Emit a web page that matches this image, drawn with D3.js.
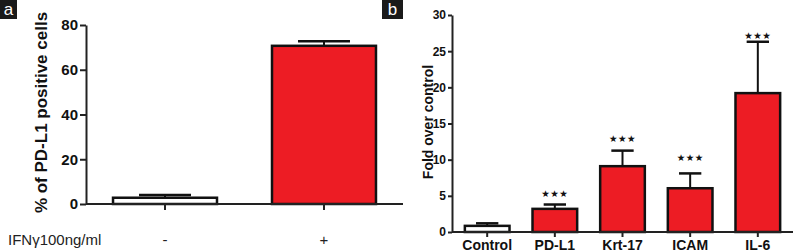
<!DOCTYPE html>
<html lang="en">
<head>
  <meta charset="UTF-8">
  <title>PD-L1 bars</title>
  <script src="https://d3js.org/d3.v7.min.js"></script>
  <style>
    body { margin: 0; background: #fff; font-family: "Liberation Sans", Arial, sans-serif; }
    .axis path, .axis line { stroke: #222; stroke-width: 2; }
    .tag rect { fill: #1a1a1a; }
    .tag text { fill: #fff; font-size: 17px; }
  </style>
</head>
<body>
  <svg width="798" height="252"></svg>

  <script>
    // panel a
    const aGroups = ["-", "+"];
    const aMeans = [2.8, 70.7];
    const aErrors = [1.2, 2.0];
    const aFills = ["#ffffff", "#ed1c24"];
    const aTicks = [0, 20, 40, 60, 80];

    // panel b
    const bGroups = ["Control", "PD-L1", "Krt-17", "ICAM", "IL-6"];
    const bMeans = [0.85, 3.2, 9.1, 6.05, 19.2];
    const bErrors = [0.35, 0.6, 2.15, 2.05, 7.1];
    const bFills = ["#ffffff", "#ed1c24", "#ed1c24", "#ed1c24", "#ed1c24"];
    const bStars = ["", "★★★", "★★★", "★★★", "★★★"];
    const bStarAt = [null, 5.45, 13.0, 10.4, 27.3];
    const bTicks = [0, 5, 10, 15, 20, 25, 30];

    const svg = d3.select("svg");

    function panel(opt) {
      const x = d3.scaleBand().domain(opt.groups).range(opt.xr)
        .paddingInner(opt.pi).paddingOuter(opt.po);
      const y = d3.scaleLinear().domain([0, opt.max]).range(opt.yr);
      const g = svg.append("g");

      // bars
      const bars = g.selectAll(".bar").data(opt.groups).enter();
      bars.append("line")
        .attr("x1", d => x(d) + x.bandwidth() / 2)
        .attr("x2", d => x(d) + x.bandwidth() / 2)
        .attr("y1", (d, i) => y(opt.means[i]))
        .attr("y2", (d, i) => y(opt.means[i] + opt.errs[i]))
        .attr("stroke", "#111").attr("stroke-width", 2);
      bars.append("line")
        .attr("x1", d => x(d) + x.bandwidth() / 4)
        .attr("x2", d => x(d) + x.bandwidth() * 3 / 4)
        .attr("y1", (d, i) => y(opt.means[i] + opt.errs[i]))
        .attr("y2", (d, i) => y(opt.means[i] + opt.errs[i]))
        .attr("stroke", "#111").attr("stroke-width", 2.5);
      bars.append("rect")
        .attr("x", d => x(d))
        .attr("width", x.bandwidth())
        .attr("y", (d, i) => y(opt.means[i]))
        .attr("height", (d, i) => y(0) - y(opt.means[i]))
        .attr("fill", (d, i) => opt.fills[i])
        .attr("stroke", "#111").attr("stroke-width", 2.5);

      // axes
      const ya = g.append("g").attr("class", "axis")
        .attr("transform", `translate(${opt.xr[0]},0)`)
        .call(d3.axisLeft(y).tickValues(opt.ticks).tickSize(opt.tick).tickSizeOuter(0).tickPadding(2));
      ya.selectAll("text").style("font-size", opt.yFont).style("font-weight", "bold")
        .style("font-family", opt.yFamily).attr("fill", "#111");

      const xa = g.append("g").attr("class", "axis")
        .attr("transform", `translate(0,${opt.yr[0]})`)
        .call(d3.axisBottom(x).tickSize(opt.xtick).tickSizeOuter(0).tickFormat(""));
      xa.select(".domain").attr("d", `M${opt.xr[0]},0H${opt.xr[1]}`);
      return { x, y, g };
    }

    // ---- panel a ----
    const A = panel({
      groups: aGroups, means: aMeans, errs: aErrors, fills: aFills, ticks: aTicks,
      max: 80, xr: [86, 403], yr: [204, 25], pi: 0.346, po: 0.17,
      tick: 6, xtick: 6, yFont: "15px", yFamily: "Liberation Sans"
    });
    A.g.selectAll(".glab").data(aGroups).enter().append("text")
      .attr("x", d => A.x(d) + A.x.bandwidth() / 2).attr("y", 245)
      .attr("text-anchor", "middle").style("font-size", "15px").attr("fill", "#222")
      .text(d => d);
    A.g.append("text").attr("x", 8).attr("y", 245)
      .style("font-size", "15px").attr("fill", "#222").text("IFNγ100ng/ml");
    A.g.append("text")
      .attr("transform", "translate(47,112.5) rotate(-90)")
      .attr("text-anchor", "middle").style("font-size", "17px").style("font-weight", "bold")
      .attr("fill", "#111").text("% of PD-L1 positive cells");

    // ---- panel b ----
    const B = panel({
      groups: bGroups, means: bMeans, errs: bErrors, fills: bFills, ticks: bTicks,
      max: 30, xr: [452, 793], yr: [232, 15], pi: 0.34, po: 0.19,
      tick: 4, xtick: 5, yFont: "12px", yFamily: "Liberation Sans Narrow, Liberation Sans"
    });
    B.g.selectAll(".glab").data(bGroups).enter().append("text")
      .attr("x", d => B.x(d) + B.x.bandwidth() / 2).attr("y", 250)
      .attr("text-anchor", "middle")
      .style("font-family", "Liberation Sans Narrow, Liberation Sans")
      .style("font-size", "14px").style("font-weight", "bold").attr("fill", "#111")
      .text(d => d);
    B.g.selectAll(".star").data(bGroups.filter((d, i) => bStars[i])).enter().append("text")
      .attr("x", d => B.x(d) + B.x.bandwidth() / 2)
      .attr("y", d => B.y(bStarAt[bGroups.indexOf(d)]) + 4)
      .attr("text-anchor", "middle").style("font-size", "9.5px")
      .style("font-family", "DejaVu Sans").style("letter-spacing", "0.5px").attr("fill", "#111")
      .text(d => bStars[bGroups.indexOf(d)]);
    B.g.append("text")
      .attr("transform", "translate(433,122) rotate(-90)")
      .attr("text-anchor", "middle").style("font-size", "14px").style("font-weight", "bold")
      .attr("fill", "#111").text("Fold over control");

    // panel tags
    const tags = [{ t: "a", x: 0, w: 17 }, { t: "b", x: 382, w: 21 }];
    const tg = svg.selectAll(".tag").data(tags).enter().append("g").attr("class", "tag");
    tg.append("rect").attr("x", d => d.x).attr("y", 0).attr("width", d => d.w).attr("height", 19);
    tg.append("text").attr("x", d => d.x + d.w / 2).attr("y", 15)
      .attr("text-anchor", "middle").text(d => d.t);
  </script>
</body>
</html>
